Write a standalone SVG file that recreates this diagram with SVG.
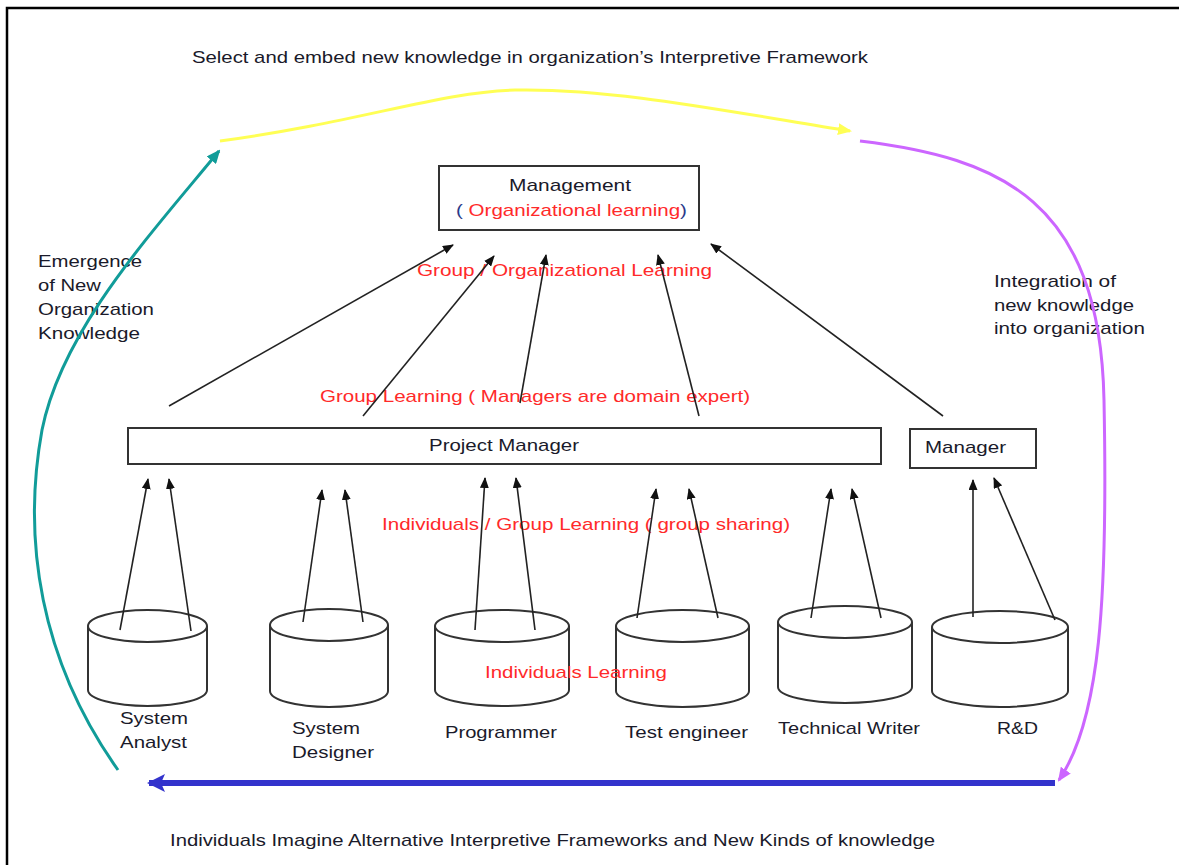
<svg xmlns="http://www.w3.org/2000/svg" width="1179" height="865" viewBox="0 0 1179 865">
<defs>
<style>
.t{font-family:"Liberation Sans",Arial,sans-serif;font-size:17px;fill:#1a1a2a}
.r{font-family:"Liberation Sans",Arial,sans-serif;font-size:17px;fill:#ff2a2a}
.box{fill:#fff;stroke:#333;stroke-width:2}
.cyl{fill:#fff;stroke:#333;stroke-width:2}
.a{stroke:#222;stroke-width:1.6;fill:none;marker-end:url(#ah)}
.l{stroke:#333;stroke-width:1.6;fill:none}
</style>
<marker id="ah" markerUnits="userSpaceOnUse" markerWidth="11" markerHeight="9" refX="10" refY="4.5" orient="auto"><path d="M0,0 L11,4.5 L0,9 z" fill="#111"/></marker>
<marker id="ay" markerUnits="userSpaceOnUse" markerWidth="14" markerHeight="12" refX="12" refY="6" orient="auto"><path d="M0,0 L14,6 L0,12 z" fill="#ffff55"/></marker>
<marker id="at" markerUnits="userSpaceOnUse" markerWidth="14" markerHeight="12" refX="12" refY="6" orient="auto"><path d="M0,0 L14,6 L0,12 z" fill="#119c99"/></marker>
<marker id="ap" markerUnits="userSpaceOnUse" markerWidth="14" markerHeight="12" refX="12" refY="6" orient="auto"><path d="M0,0 L14,6 L0,12 z" fill="#cc66ff"/></marker>
<marker id="ab" markerUnits="userSpaceOnUse" markerWidth="18" markerHeight="18" refX="16" refY="9" orient="auto"><path d="M0,0 L18,9 L0,18 L4,9 z" fill="#3333cc"/></marker>
</defs>
<rect width="1179" height="865" fill="#fff"/>
<g id="frame"><path d="M7,865 L7,8 L1179,8" fill="none" stroke="#000" stroke-width="2.5"/></g>

<g id="title"><text class="t" x="192" y="63" textLength="676" lengthAdjust="spacingAndGlyphs">Select and embed new knowledge in organization’s Interpretive Framework</text></g>

<g id="management">
<rect class="box" x="439" y="166" width="260" height="64"/>
<text class="t" x="509" y="191" textLength="122" lengthAdjust="spacingAndGlyphs">Management</text>
<text x="456" y="216" class="t" textLength="231" lengthAdjust="spacingAndGlyphs"><tspan fill="#2a3a8a">( </tspan><tspan fill="#ff2a2a">Organizational learning</tspan><tspan fill="#2a3a8a">)</tspan></text>
</g>

<g id="project-manager">
<rect class="box" x="128" y="428" width="753" height="36"/>
<text class="t" x="429" y="451" textLength="150" lengthAdjust="spacingAndGlyphs">Project Manager</text>
</g>

<g id="manager">
<rect class="box" x="910" y="429" width="126" height="39"/>
<text class="t" x="925" y="453" textLength="81" lengthAdjust="spacingAndGlyphs">Manager</text>
</g>

<g id="system-analyst">
<path class="cyl" d="M88,626 L88,690 A59.5,16 0 0 0 207,690 L207,626"/>
<ellipse class="cyl" cx="147.5" cy="626" rx="59.5" ry="16"/>
<text class="t" x="120" y="724" textLength="68" lengthAdjust="spacingAndGlyphs">System</text>
<text class="t" x="120" y="748" textLength="67" lengthAdjust="spacingAndGlyphs">Analyst</text>
</g>

<g id="system-designer">
<path class="cyl" d="M270,625 L270,691 A59,16 0 0 0 388,691 L388,625"/>
<ellipse class="cyl" cx="329" cy="625" rx="59" ry="16"/>
<text class="t" x="292" y="734" textLength="68" lengthAdjust="spacingAndGlyphs">System</text>
<text class="t" x="292" y="758" textLength="82" lengthAdjust="spacingAndGlyphs">Designer</text>
</g>

<g id="programmer">
<path class="cyl" d="M435,626 L435,690 A67,16 0 0 0 569,690 L569,626"/>
<ellipse class="cyl" cx="502" cy="626" rx="67" ry="16"/>
<text class="t" x="445" y="738" textLength="112" lengthAdjust="spacingAndGlyphs">Programmer</text>
</g>

<g id="test-engineer">
<path class="cyl" d="M616,626 L616,691 A66.5,16 0 0 0 749,691 L749,626"/>
<ellipse class="cyl" cx="682.5" cy="626" rx="66.5" ry="16"/>
<text class="t" x="625" y="738" textLength="123" lengthAdjust="spacingAndGlyphs">Test engineer</text>
</g>

<g id="technical-writer">
<path class="cyl" d="M778,622 L778,687 A67,16 0 0 0 912,687 L912,622"/>
<ellipse class="cyl" cx="845" cy="622" rx="67" ry="16"/>
<text class="t" x="778" y="734" textLength="142" lengthAdjust="spacingAndGlyphs">Technical Writer</text>
</g>

<g id="rnd">
<path class="cyl" d="M932,627 L932,691 A68,16 0 0 0 1068,691 L1068,627"/>
<ellipse class="cyl" cx="1000" cy="627" rx="68" ry="16"/>
<text class="t" x="997" y="734" textLength="41" lengthAdjust="spacingAndGlyphs">R&amp;D</text>
</g>

<g id="labels">
<text class="r" x="417" y="276" textLength="295" lengthAdjust="spacingAndGlyphs">Group  / Organizational Learning</text>
<text class="r" x="320" y="402" textLength="430" lengthAdjust="spacingAndGlyphs">Group  Learning ( Managers are domain expert)</text>
<text class="r" x="382" y="530" textLength="408" lengthAdjust="spacingAndGlyphs">Individuals / Group  Learning ( group sharing)</text>
<text class="r" x="485" y="678" textLength="182" lengthAdjust="spacingAndGlyphs">Individuals Learning</text>
<text class="t" x="38" y="267" textLength="104" lengthAdjust="spacingAndGlyphs">Emergence</text>
<text class="t" x="38" y="291" textLength="63" lengthAdjust="spacingAndGlyphs">of New</text>
<text class="t" x="38" y="315" textLength="116" lengthAdjust="spacingAndGlyphs">Organization</text>
<text class="t" x="38" y="339" textLength="102" lengthAdjust="spacingAndGlyphs">Knowledge</text>
<text class="t" x="994" y="287" textLength="122" lengthAdjust="spacingAndGlyphs">Integration of</text>
<text class="t" x="994" y="311" textLength="140" lengthAdjust="spacingAndGlyphs">new knowledge</text>
<text class="t" x="994" y="334" textLength="151" lengthAdjust="spacingAndGlyphs">into organization</text>
<text class="t" x="170" y="846" textLength="765" lengthAdjust="spacingAndGlyphs">Individuals Imagine Alternative Interpretive Frameworks and New Kinds of knowledge</text>
</g>

<g id="connectors">
<path d="M220,141 C360,122 440,92 515,90 C610,88 720,110 850,131" stroke="#ffff55" stroke-width="3" fill="none" marker-end="url(#ay)"/>
<path d="M118,770 C40,660 22,540 42,430 C62,330 150,235 219,151" stroke="#119c99" stroke-width="3" fill="none" marker-end="url(#at)"/>
<path d="M860,141 C1000,158 1100,200 1104,400 C1108,600 1100,720 1059,780" stroke="#cc66ff" stroke-width="3" fill="none" marker-end="url(#ap)"/>
<path d="M1055,783 L149,783" stroke="#3333cc" stroke-width="6" fill="none" marker-end="url(#ab)"/>

<line class="a" x1="169" y1="406" x2="453" y2="245"/>
<line class="a" x1="363" y1="416" x2="494" y2="256"/>
<line class="a" x1="520" y1="403" x2="546" y2="255"/>
<line class="a" x1="699" y1="416" x2="658" y2="255"/>
<line class="a" x1="943" y1="416" x2="711" y2="244"/>

<line class="a" x1="120" y1="630" x2="148" y2="479"/>
<line class="a" x1="191" y1="631" x2="169" y2="479"/>
<line class="a" x1="303" y1="622" x2="322" y2="490"/>
<line class="a" x1="363" y1="622" x2="345" y2="490"/>
<line class="a" x1="475" y1="630" x2="485" y2="478"/>
<line class="a" x1="535" y1="630" x2="516" y2="478"/>
<line class="a" x1="637" y1="618" x2="656" y2="489"/>
<line class="a" x1="718" y1="618" x2="689" y2="489"/>
<line class="a" x1="811" y1="618" x2="831" y2="489"/>
<line class="a" x1="881" y1="618" x2="852" y2="489"/>
<line class="a" x1="973" y1="617" x2="973" y2="480"/>
<line class="a" x1="1055" y1="620" x2="994" y2="478"/>
</g>
</svg>
